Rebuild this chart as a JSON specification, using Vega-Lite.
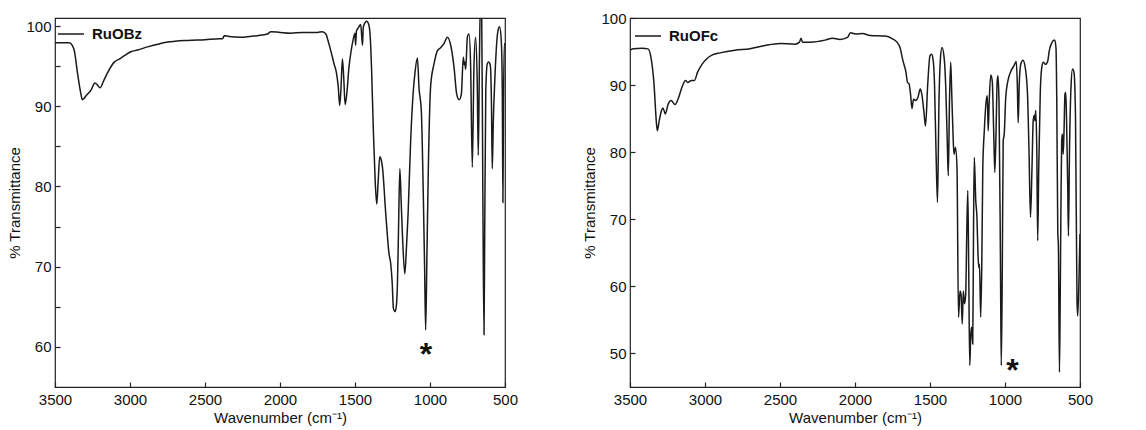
{
  "$schema": "https://vega.github.io/schema/vega-lite/v6.json",
  "padding": {"left": 7, "top": 10, "right": 5, "bottom": 0},
  "spacing": 63,
  "datasets": {
    "bz": [
      {"w":3500,"t":97.9},{"w":3450,"t":97.9},{"w":3405,"t":97.9},{"w":3385,"t":97.6},{"w":3371,"t":96.9},{"w":3349,"t":94.0},{"w":3327,"t":91.5},{"w":3318,"t":90.8},{"w":3305,"t":91.0},{"w":3293,"t":91.3},{"w":3260,"t":92.0},{"w":3234,"t":92.9},{"w":3215,"t":92.6},{"w":3200,"t":92.3},{"w":3175,"t":93.2},{"w":3149,"t":94.2},{"w":3105,"t":95.5},{"w":3070,"t":95.9},{"w":3038,"t":96.3},{"w":2994,"t":96.8},{"w":2950,"t":97.0},{"w":2883,"t":97.4},{"w":2800,"t":97.8},{"w":2750,"t":98.0},{"w":2700,"t":98.1},{"w":2616,"t":98.2},{"w":2500,"t":98.3},{"w":2400,"t":98.4},{"w":2383,"t":98.4},{"w":2372,"t":98.8},{"w":2340,"t":98.7},{"w":2261,"t":98.6},{"w":2200,"t":98.7},{"w":2150,"t":98.8},{"w":2084,"t":99.0},{"w":2061,"t":99.3},{"w":2000,"t":99.2},{"w":1929,"t":99.1},{"w":1850,"t":99.2},{"w":1750,"t":99.2},{"w":1717,"t":99.3},{"w":1694,"t":99.0},{"w":1680,"t":98.2},{"w":1661,"t":96.9},{"w":1640,"t":95.3},{"w":1624,"t":94.2},{"w":1612,"t":92.5},{"w":1602,"t":90.1},{"w":1594,"t":92.0},{"w":1584,"t":95.9},{"w":1575,"t":93.5},{"w":1566,"t":90.2},{"w":1555,"t":91.5},{"w":1540,"t":94.9},{"w":1525,"t":97.0},{"w":1511,"t":98.4},{"w":1500,"t":99.1},{"w":1496,"t":97.6},{"w":1490,"t":99.4},{"w":1477,"t":99.8},{"w":1462,"t":100.2},{"w":1450,"t":97.6},{"w":1445,"t":99.8},{"w":1439,"t":100.2},{"w":1422,"t":100.6},{"w":1406,"t":100.0},{"w":1398,"t":98.5},{"w":1390,"t":94.9},{"w":1377,"t":86.6},{"w":1365,"t":80.5},{"w":1355,"t":77.8},{"w":1346,"t":80.5},{"w":1335,"t":83.7},{"w":1325,"t":83.3},{"w":1317,"t":82.4},{"w":1295,"t":76.6},{"w":1273,"t":71.6},{"w":1262,"t":70.4},{"w":1252,"t":68.0},{"w":1244,"t":64.8},{"w":1233,"t":64.4},{"w":1225,"t":65.0},{"w":1217,"t":67.9},{"w":1210,"t":74.5},{"w":1201,"t":82.2},{"w":1192,"t":78.0},{"w":1184,"t":74.1},{"w":1168,"t":69.1},{"w":1158,"t":72.0},{"w":1146,"t":76.6},{"w":1129,"t":85.7},{"w":1111,"t":92.0},{"w":1100,"t":94.2},{"w":1084,"t":96.0},{"w":1073,"t":92.2},{"w":1058,"t":89.5},{"w":1044,"t":78.3},{"w":1036,"t":70.0},{"w":1029,"t":62.1},{"w":1020,"t":72.0},{"w":1011,"t":82.4},{"w":995,"t":92.7},{"w":973,"t":95.3},{"w":951,"t":96.9},{"w":929,"t":97.3},{"w":907,"t":97.8},{"w":884,"t":98.6},{"w":862,"t":97.6},{"w":840,"t":94.9},{"w":822,"t":91.5},{"w":806,"t":90.8},{"w":791,"t":91.5},{"w":778,"t":96.1},{"w":772,"t":95.2},{"w":769,"t":95.5},{"w":762,"t":94.6},{"w":751,"t":98.6},{"w":740,"t":99.0},{"w":729,"t":94.9},{"w":718,"t":82.4},{"w":707,"t":94.9},{"w":696,"t":98.6},{"w":685,"t":92.8},{"w":678,"t":83.9},{"w":671,"t":94.9},{"w":664,"t":103},{"w":656,"t":103},{"w":648,"t":80},{"w":640,"t":61.5},{"w":635,"t":75},{"w":628,"t":92},{"w":618,"t":95.3},{"w":609,"t":95.5},{"w":598,"t":95.1},{"w":590,"t":90},{"w":585,"t":82.2},{"w":578,"t":88},{"w":569,"t":92.8},{"w":547,"t":99.4},{"w":536,"t":99.9},{"w":525,"t":98.2},{"w":518,"t":92},{"w":514,"t":78.0},{"w":510,"t":90},{"w":505,"t":97.8},{"w":500,"t":97.8}
    ],
    "fc": [
      {"w":3500,"t":95.2},{"w":3480,"t":95.4},{"w":3420,"t":95.5},{"w":3380,"t":95.4},{"w":3360,"t":94.1},{"w":3340,"t":90.2},{"w":3325,"t":84.7},{"w":3318,"t":83.2},{"w":3305,"t":84.7},{"w":3290,"t":86.2},{"w":3280,"t":86.6},{"w":3265,"t":85.7},{"w":3245,"t":87.2},{"w":3225,"t":87.7},{"w":3200,"t":87.1},{"w":3180,"t":87.9},{"w":3150,"t":89.9},{"w":3130,"t":90.7},{"w":3115,"t":90.4},{"w":3090,"t":90.7},{"w":3070,"t":90.7},{"w":3050,"t":91.9},{"w":3020,"t":93.1},{"w":2990,"t":93.9},{"w":2950,"t":94.5},{"w":2900,"t":94.8},{"w":2800,"t":95.2},{"w":2700,"t":95.4},{"w":2600,"t":95.9},{"w":2500,"t":96.2},{"w":2400,"t":96.1},{"w":2370,"t":96.4},{"w":2360,"t":97.0},{"w":2350,"t":96.4},{"w":2300,"t":96.4},{"w":2200,"t":96.7},{"w":2150,"t":97.0},{"w":2100,"t":96.8},{"w":2050,"t":97.1},{"w":2030,"t":97.8},{"w":1990,"t":97.6},{"w":1950,"t":97.7},{"w":1900,"t":97.4},{"w":1800,"t":97.3},{"w":1750,"t":96.9},{"w":1720,"t":96.4},{"w":1700,"t":95.6},{"w":1680,"t":93.6},{"w":1660,"t":91.9},{"w":1650,"t":90.4},{"w":1640,"t":90.2},{"w":1630,"t":88.7},{"w":1620,"t":86.5},{"w":1610,"t":87.9},{"w":1595,"t":87.7},{"w":1580,"t":88.2},{"w":1565,"t":89.4},{"w":1555,"t":88.7},{"w":1540,"t":85.9},{"w":1530,"t":83.9},{"w":1515,"t":90.2},{"w":1500,"t":94.4},{"w":1490,"t":94.6},{"w":1480,"t":93.9},{"w":1470,"t":90.2},{"w":1460,"t":80.2},{"w":1450,"t":72.5},{"w":1440,"t":87.7},{"w":1430,"t":94.1},{"w":1420,"t":95.6},{"w":1405,"t":93.9},{"w":1395,"t":89.7},{"w":1385,"t":81.7},{"w":1378,"t":76.5},{"w":1370,"t":87.7},{"w":1362,"t":93.4},{"w":1355,"t":88.7},{"w":1345,"t":81.7},{"w":1340,"t":79.7},{"w":1330,"t":80.7},{"w":1320,"t":77.7},{"w":1310,"t":55.4},{"w":1300,"t":59.3},{"w":1293,"t":58.8},{"w":1285,"t":54.4},{"w":1278,"t":59.3},{"w":1270,"t":57.4},{"w":1262,"t":58.8},{"w":1255,"t":67.8},{"w":1248,"t":74.3},{"w":1242,"t":62.8},{"w":1235,"t":48.2},{"w":1228,"t":52.9},{"w":1222,"t":53.9},{"w":1215,"t":51.4},{"w":1210,"t":67.8},{"w":1205,"t":79.2},{"w":1195,"t":72.8},{"w":1187,"t":70.3},{"w":1180,"t":64.8},{"w":1175,"t":62.8},{"w":1170,"t":63.3},{"w":1162,"t":55.4},{"w":1155,"t":62.8},{"w":1148,"t":77.7},{"w":1138,"t":83.2},{"w":1125,"t":87.7},{"w":1118,"t":88.4},{"w":1112,"t":83.2},{"w":1105,"t":87.7},{"w":1095,"t":91.5},{"w":1085,"t":90.6},{"w":1075,"t":82.7},{"w":1068,"t":77.0},{"w":1060,"t":82.7},{"w":1052,"t":90.6},{"w":1047,"t":91.4},{"w":1040,"t":87.7},{"w":1030,"t":62.8},{"w":1025,"t":48.2},{"w":1018,"t":62.8},{"w":1012,"t":81.7},{"w":1005,"t":82.7},{"w":995,"t":88.2},{"w":980,"t":90.7},{"w":960,"t":92.1},{"w":940,"t":92.9},{"w":925,"t":93.5},{"w":918,"t":90.2},{"w":912,"t":84.4},{"w":905,"t":90.2},{"w":895,"t":93.1},{"w":880,"t":93.7},{"w":865,"t":92.6},{"w":850,"t":88.7},{"w":840,"t":80.2},{"w":830,"t":70.3},{"w":820,"t":77.7},{"w":812,"t":84.7},{"w":805,"t":85.5},{"w":800,"t":84.7},{"w":795,"t":86.2},{"w":788,"t":80.2},{"w":782,"t":66.8},{"w":775,"t":77.7},{"w":765,"t":88.7},{"w":755,"t":92.6},{"w":745,"t":93.4},{"w":730,"t":93.1},{"w":715,"t":93.6},{"w":705,"t":95.1},{"w":690,"t":96.2},{"w":675,"t":96.7},{"w":668,"t":96.7},{"w":660,"t":95.5},{"w":655,"t":88},{"w":648,"t":68},{"w":644,"t":66},{"w":637,"t":47.2},{"w":632,"t":58},{"w":627,"t":72},{"w":622,"t":81.7},{"w":617,"t":82.7},{"w":612,"t":79.7},{"w":607,"t":82.7},{"w":600,"t":88.7},{"w":595,"t":88.9},{"w":590,"t":85.2},{"w":582,"t":75.2},{"w":577,"t":67.5},{"w":570,"t":80.2},{"w":560,"t":89.7},{"w":550,"t":92.4},{"w":540,"t":91.9},{"w":530,"t":85.2},{"w":520,"t":57.9},{"w":515,"t":55.6},{"w":505,"t":62.8},{"w":500,"t":67.8}
    ],
    "starbz": [{"w":1027,"t":57.7,"label":"*"}],
    "starfc": [{"w":950,"t":45.9,"label":"*"}]
  },
  "hconcat": [
    {
      "width": 450, "height": 369,
      "layer": [
        {
          "data": {"name": "bz"},
          "mark": {"type": "line", "clip": true, "strokeWidth": 1.5, "interpolate": "monotone"},
          "encoding": {
            "x": {"field": "w", "type": "quantitative", "scale": {"domain": [3500, 500], "nice": false, "zero": false},
                  "axis": {"title": "Wavenumber (cm⁻¹)", "values": [3500,3250,3000,2750,2500,2250,2000,1750,1500,1250,1000,750,500],
                           "labelExpr": "datum.value % 500 == 0 ? format(datum.value, 'd') : ''"}},
            "y": {"field": "t", "type": "quantitative", "scale": {"domain": [55, 101], "nice": false, "zero": false},
                  "axis": {"title": "% Transmittance", "values": [60,65,70,75,80,85,90,95,100],
                           "labelExpr": "datum.value % 10 == 0 ? format(datum.value, 'd') : ''"}},
            "color": {"datum": "RuOBz", "scale": {"range": ["#1a1a1a"]},
                      "legend": {"orient": "top-left", "offset": 2, "title": null, "padding": 0, "symbolType": "stroke", "symbolSize": 676, "symbolStrokeWidth": 1.5, "labelFontSize": 15, "labelFontWeight": "bold", "labelColor": "#111", "labelOffset": 7}}
          }
        },
        {
          "data": {"name": "starbz"},
          "mark": {"type": "text", "fontSize": 32, "fontWeight": "bold", "baseline": "alphabetic", "align": "center", "color": "#111"},
          "encoding": {"x": {"field": "w", "type": "quantitative"}, "y": {"field": "t", "type": "quantitative"}, "text": {"field": "label"}}
        }
      ]
    },
    {
      "width": 450, "height": 369,
      "layer": [
        {
          "data": {"name": "fc"},
          "mark": {"type": "line", "clip": true, "strokeWidth": 1.5, "interpolate": "monotone"},
          "encoding": {
            "x": {"field": "w", "type": "quantitative", "scale": {"domain": [3500, 500], "nice": false, "zero": false},
                  "axis": {"title": "Wavenumber (cm⁻¹)", "values": [3500,3250,3000,2750,2500,2250,2000,1750,1500,1250,1000,750,500],
                           "labelExpr": "datum.value % 500 == 0 ? format(datum.value, 'd') : ''"}},
            "y": {"field": "t", "type": "quantitative", "scale": {"domain": [45, 100], "nice": false, "zero": false},
                  "axis": {"title": "% Transmittance", "values": [50,55,60,65,70,75,80,85,90,95,100],
                           "labelExpr": "datum.value % 10 == 0 ? format(datum.value, 'd') : ''"}},
            "color": {"datum": "RuOFc", "scale": {"range": ["#1a1a1a"]},
                      "legend": {"orient": "top-left", "offset": 4, "title": null, "padding": 0, "symbolType": "stroke", "symbolSize": 676, "symbolStrokeWidth": 1.5, "labelFontSize": 15, "labelFontWeight": "bold", "labelColor": "#111", "labelOffset": 7}}
          }
        },
        {
          "data": {"name": "starfc"},
          "mark": {"type": "text", "fontSize": 32, "fontWeight": "bold", "baseline": "alphabetic", "align": "center", "color": "#111"},
          "encoding": {"x": {"field": "w", "type": "quantitative"}, "y": {"field": "t", "type": "quantitative"}, "text": {"field": "label"}}
        }
      ]
    }
  ],
  "resolve": {"scale": {"color": "independent"}, "legend": {"color": "independent"}},
  "config": {
    "font": "Liberation Sans",
    "view": {"stroke": "#222", "strokeWidth": 1.2},
    "axis": {
      "grid": false, "domain": false,
      "tickSize": -5, "tickColor": "#222", "tickWidth": 1.2,
      "labelFontSize": 15, "labelColor": "#111", "labelFlush": false, "labelOverlap": false,
      "titleFontSize": 15, "titleFontWeight": "normal", "titleColor": "#111"
    },
    "axisX": {"labelPadding": 10, "titlePadding": 3},
    "axisY": {"labelPadding": 9, "titlePadding": 3}
  }
}
